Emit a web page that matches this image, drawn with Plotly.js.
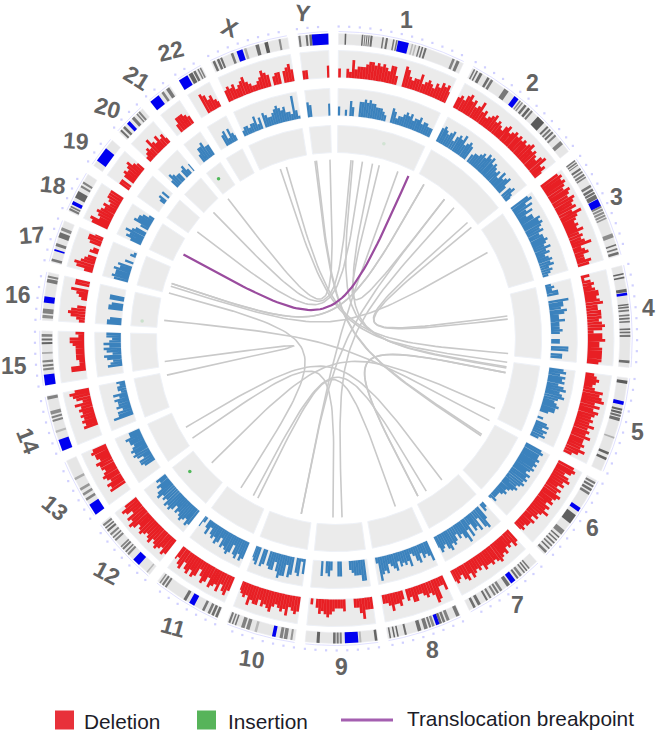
<!DOCTYPE html>
<html><head><meta charset="utf-8">
<script src="https://cdn.plot.ly/plotly-3.0.1.min.js"></script>
<style>html,body{margin:0;padding:0;background:#fff}</style></head>
<body><div id="chart" style="width:657px;height:734px"></div>
<script>
const chromNames=['1','2','3','4','5','6','7','8','9','10','11','12','13','14','15','16','17','18','19','20','21','22','X','Y'];
const chromLengthsMb=[249,243,198,191,181,171,159,146,141,135,135,133,115,107,102,90,81,78,59,63,48,51,155,59];
const binMb=6;
const trackMax=9;
// deletion track, per 6 Mb bin
const del1=[3,0,0,3,2,6,3,4,4,4,5,6,6,5,6,5,6,5,4,6,6,3,0,0,7,6,4,3,4,4,6,3,4,5,4,3,5,4,6,5,6,4];
const del2=[4,5,4,6,7,5,6,4,5,7,4,5,3,4,5,6,4,5,4,3,5,6,4,5,6,5,6,5,6,5,6,7,5,6,5,4,6,7,4,5,3];
const del3=[7,8,7,8,7,6,8,7,6,8,7,6,7,5,8,6,5,4,5,4,6,4,5,4,5,7,3,4,5,3,3,5,4];
const del4=[3,1,3,4,3,4,5,5,4,5,6,4,4,5,5,5,4,5,6,5,2,5,5,6,4,4,5,5,5,5,5,4];
const del5=[3,4,5,4,3,4,7,6,7,8,5,7,5,7,6,5,6,5,7,5,6,5,7,5,5,6,5,7,5,3];
const del6=[6,7,6,4,6,7,5,6,4,6,5,7,6,5,6,4,6,5,7,5,4,5,3,5,4,4,3,4,3];
const del7=[5,6,4,5,4,6,5,6,7,6,5,6,5,5,6,4,5,4,5,6,4,6,5,3,4,5,4];
const del8=[5,3,3,7,8,5,4,5,4,3,3,5,5,3,4,0,3,5,4,4,6,4,3,3];
const del9=[4,4,4,7,5,3,3,0,0,0,4,3,3,3,4,5,6,5,4,5,3,0,2,0];
const del10=[5,6,5,4,7,5,6,5,4,5,7,6,5,6,4,6,6,5,7,4,5,4,3];
const del11=[5,7,6,4,7,5,6,7,4,6,7,5,3,6,7,5,7,6,4,7,6,4,5];
const del12=[6,7,5,6,7,6,5,7,6,5,6,7,6,5,7,8,6,7,4,6,7,5];
const del13=[0,0,0,6,5,6,4,5,6,5,4,5,5,6,4,5,5,6,5];
const del14=[0,0,0,0,5,4,5,4,5,4,5,4,6,3,5,6,7,5];
const del15=[0,0,0,5,5,2,2,3,3,3,3,3,4,5,5,2,3];
const del16=[2,3,5,6,5,3,0,0,2,3,4,6,0,5,5];
const del17=[3,6,7,5,4,3,0,3,2,0,4,5,5,3];
const del18=[6,7,4,5,6,5,4,5,3,4,5,5,5];
const del19=[4,4,0,4,5,4,5,6,4,3];
const del20=[2,3,4,3,6,4,3,5,3,4,2];
const del21=[0,0,3,5,5,5,4,3];
const del22=[0,0,0,7,6,4,5,3,2];
const delX=[4,5,4,5,3,4,5,6,4,3,2,2,3,4,6,5,4,0,3,4,4,0,4,5,6,4];
const delY=[3,3,0,0,0,0,0,0,0,4];
const deletionBins=[del1,del2,del3,del4,del5,del6,del7,del8,del9,del10,del11,del12,del13,del14,del15,del16,del17,del18,del19,del20,del21,del22,delX,delY];
// second (blue) track
const blue1=[3,0,0,2,0,5,3,0,0,5,5,6,5,6,5,5,4,4,4,3,2,0,0,5,4,2,3,3,4,5,4,5,3,4,4,5,3,4,4,3,3,3];
const blue2=[5,6,5,4,5,6,3,5,6,5,7,4,5,6,5,0,3,4,4,5,6,5,7,6,7,5,6,5,4,5,3,6,4,5,6,3,0,4,5,3,2];
const blue3=[7,8,5,7,4,6,3,5,5,7,6,7,6,5,6,4,5,5,6,5,4,6,4,5,3,4,5,4,5,3,4,3,2];
const blue4=[2,3,2,4,4,0,0,7,5,5,4,6,5,3,3,5,3,3,3,4,3,0,0,3,3,0,6,6,0,4,4,0];
const blue5=[5,6,4,6,5,6,4,6,7,5,6,7,5,4,5,6,5,5,3,0,0,2,0,4,5,3,5,4,5,3];
const blue6=[6,7,6,6,7,6,7,6,7,6,5,7,6,7,6,7,6,5,6,5,4,3,4,3,2,2,2,3,1];
const blue7=[2,3,0,5,8,7,3,7,5,6,3,7,4,8,6,4,5,3,5,6,5,7,6,4,5,6,4];
const blue8=[7,5,4,5,3,6,5,3,2,6,4,5,4,5,3,6,5,4,3,6,5,6,8,2];
const blue9=[0,7,7,5,5,5,4,3,0,0,0,5,5,0,0,3,5,4,0,5,0,0,0,0];
const blue10=[5,1,6,5,0,6,7,3,7,7,8,6,3,6,6,5,0,5,6,0,6,5,4];
const blue11=[6,7,5,7,6,3,6,7,6,5,6,3,5,6,4,5,4,2,5,3,0,2,4];
const blue12=[6,7,5,6,7,6,5,6,4,6,7,6,7,5,6,5,7,6,4,5,3,4];
const blue13=[0,0,0,0,4,5,5,3,5,6,5,6,5,4,5,5,6,4,4];
const blue14=[0,0,0,7,5,5,3,5,4,4,5,3,5,2,3,3,2,3];
const blue15=[0,0,0,5,4,3,5,6,3,5,6,4,6,4,3,5,5];
const blue16=[5,5,4,0,0,0,5,5,4,0,5,5,0,0,0];
const blue17=[5,6,5,5,6,4,5,0,3,0,0,2,1,0];
const blue18=[4,6,5,7,5,4,0,3,6,5,5,4,2];
const blue19=[0,0,0,0,2,3,0,3,0,0];
const blue20=[3,5,4,3,3,0,3,4,2,0,3];
const blue21=[0,0,3,5,5,6,4,4];
const blue22=[0,0,0,4,5,2,5,3,2];
const blueX=[2,3,3,2,3,3,5,2,4,0,5,4,3,3,4,5,6,5,4,5,3,3,2,8,3,1];
const blueY=[5,4,0,0,0,0,0,0,0,4];
const blueBins=[blue1,blue2,blue3,blue4,blue5,blue6,blue7,blue8,blue9,blue10,blue11,blue12,blue13,blue14,blue15,blue16,blue17,blue18,blue19,blue20,blue21,blue22,blueX,blueY];
// ideogram bands: [startMb, endMb, grey level]
const bands1=[[12,15,100],[45,48,110],[50,52,120],[54,56,110],[58,60,110],[62,66,110],[85,88,120],[92,96,110],[106,109,120],[112,115,120],[143,146,185],[149,152,185],[157,160,120],[163,166,110],[169,173,110],[226,231,130],[235,241,120]];
const bands2=[[3,6,120],[9,12,110],[16,22,110],[33,38,110],[41,46,120],[72,82,120],[109,112,140],[114,117,140],[121,126,110],[130,135,100],[138,142,120],[155,172,90],[180,184,110],[187,191,120],[194,198,110],[202,206,130],[218,226,130]];
const bands3=[[0,3,120],[5,8,120],[10,12,120],[18,22,110],[25,28,120],[31,35,120],[37,40,130],[55,60,120],[63,68,110],[70,74,110],[76,84,110],[99,103,130],[105,109,140],[111,115,140],[117,121,140],[123,126,150],[155,163,140],[176,179,110],[184,187,120],[191,196,110]];
const bands4=[[14,17,100],[21,24,100],[44,50,100],[72,75,110],[77,80,110],[83,86,120],[92,95,120],[98,101,110],[104,107,120],[118,121,110],[124,127,110],[130,134,120],[178,183,110]];
const bands5=[[5,11,90],[58,62,100],[64,68,100],[70,74,110],[76,82,110],[113,116,175],[143,148,100],[154,159,100]];
const bands6=[[4,8,120],[11,15,110],[18,23,110],[26,31,120],[76,95,95],[112,122,130],[127,130,110],[134,137,110],[141,144,110],[148,151,120],[155,158,110],[163,168,120]];
const bands7=[[18,21,120],[24,27,110],[30,33,120],[38,43,130],[46,50,110],[67,74,110],[85,90,130],[93,97,120],[100,104,130],[110,114,120],[118,122,110],[134,140,110],[145,150,110]];
const bands8=[[1,8,120],[22,28,130],[31,36,120],[38,43,110],[53,58,140],[60,64,120],[67,74,120],[80,87,110],[109,113,110],[125,128,100],[132,135,100],[140,143,110]];
const bands9=[[1,6,100],[32,36,185],[70,74,130],[76,80,120],[82,87,110],[113,119,100]];
const bands10=[[5,9,150],[15,22,130],[24,30,130],[75,80,185],[90,97,130],[100,107,130],[117,120,120],[123,126,120],[129,133,120]];
const bands11=[[1,6,110],[9,14,110],[17,22,120],[29,34,120],[69,75,110],[114,118,120],[121,125,120],[128,131,140]];
const bands12=[[5,8,185],[54,58,130],[61,64,120],[68,72,120],[74,77,130],[90,94,130],[97,100,120],[104,108,130],[113,117,110],[120,123,110],[126,130,130]];
const bands13=[[31,36,130],[42,47,140],[53,58,150],[75,80,170]];
const bands14=[[36,40,185],[57,61,130],[64,68,130],[71,78,140],[100,106,130]];
const bands15=[[28,32,130],[35,39,120],[43,47,130],[59,62,170],[77,81,100],[84,88,110],[91,96,130]];
const bands16=[[4,10,140],[13,22,130],[71,78,120],[80,84,130]];
const bands17=[[2,7,120],[31,37,120],[48,58,110],[62,68,140]];
const bands18=[[2,6,120],[8,11,120],[28,42,100],[50,54,130],[58,62,130]];
const bands19=[];
const bands20=[[3,7,110],[11,16,110],[35,41,120],[47,50,130],[52,56,130]];
const bands21=[[27,32,130],[38,45,120]];
const bands22=[[22,30,100],[32,37,110],[41,44,130],[46,49,130]];
const bandsX=[[3,8,110],[12,17,110],[19,23,110],[41,46,120],[68,73,170],[91,98,110],[109,116,90],[137,141,140]];
const bandsY=[[1,5,120],[15,19,110],[22,27,110]];
const ideogramBands=[bands1,bands2,bands3,bands4,bands5,bands6,bands7,bands8,bands9,bands10,bands11,bands12,bands13,bands14,bands15,bands16,bands17,bands18,bands19,bands20,bands21,bands22,bandsX,bandsY];
const centromereStart=[116,96,85,51,44,60,54,43,38,38,51,27,0,0,0,33,22,14,11,22,0,0,53,27];
const centromereEnd=[137,106,99,56,51,68,64,50,64,45,62,42,22,22,20,45,25,21,40,29,20,19,65,59];
// structural links, ends given as position round the circle in degrees
const linkFrom=[353,353.5,358,5,5.6,8.8,12.2,14.5,21,30.6,43.1,49.6,51.6,61.3,101,117.3,142.2,148.5,151.7,159.9,181,191.6,226,258.2,284.7,287.9,341.2,343.3];
const linkTo=[122.9,122.4,321.3,314.8,99.1,306.6,99.5,38.9,191.6,287.9,178,83.8,82.8,287,151.7,275.8,240.3,208.6,101,206.9,236.2,38.9,113,262.6,213.4,30.6,97.6,94.8];
const translocationFrom=[298];
const translocationTo=[24.8];
const insertionDeg=[322.7,228.7,14.3,275];
const insertionLevel=[5.5,5.8,5.5,5.8];
const insertionOpacity=[0.9,0.9,0.15,0.2];
const chromLabelX=[406,532,616,648,637,592,517,432,341,252,173,107,55,28,14,18,32,53,76,108,137,171,230,302];
const chromLabelY=[20,83,197,308,432,528,605,650,667,659,627,573,508,441,366,295,235,185,141,108,78,51,28,13];
const chromLabelTilt=[0,0,0,0,0,0,0,0,0,8,16,28,40,68,0,0,-4,6,4,16,32,-14,22,6];

// geometry of the round layout
const cx=336,cy=338.5,kx=0.965,gapDeg=2,startDeg=0.5;
const total=chromLengthsMb.reduce((a,b)=>a+b,0);
const degPerMb=(360-gapDeg*chromNames.length)/total;
const chromStart=[];
{let a=startDeg;chromLengthsMb.forEach(l=>{chromStart.push(a);a+=l*degPerMb+gapDeg;});}
const px=(deg,r)=>cx+kx*r*Math.sin(deg*Math.PI/180);
const py=(deg,r)=>cy-r*Math.cos(deg*Math.PI/180);
function addSector(t,a0,a1,r0,r1){
  const n=Math.max(1,Math.ceil((a1-a0)/0.5));
  for(let i=0;i<=n;i++){const a=a0+(a1-a0)*i/n;t.x.push(px(a,r1));t.y.push(py(a,r1));}
  for(let i=n;i>=0;i--){const a=a0+(a1-a0)*i/n;t.x.push(px(a,r0));t.y.push(py(a,r0));}
  t.x.push(px(a0,r1),null);t.y.push(py(a0,r1),null);
}
function filled(name,color,lineColor,lw){return {type:'scatter',mode:'lines',name,x:[],y:[],fill:'toself',fillcolor:color,line:{color:lineColor||color,width:lw||0},hoverinfo:'skip',showlegend:false};}

const ideoR=[294,305],delR=[261,288],blueR=[223,250],insR=[186,213],linkR=179;
const traces=[];
const ringBg=filled('track background','#ebebeb','#eef1f7',1);
const ideoBg=filled('ideogram','#e6e6e6','#ececf2',0.6);
chromNames.forEach((c,i)=>{
  const a0=chromStart[i],a1=a0+chromLengthsMb[i]*degPerMb;
  addSector(ideoBg,a0,a1,ideoR[0],ideoR[1]);
  [delR,blueR,insR].forEach(R=>addSector(ringBg,a0,a1,R[0],R[1]));
});
traces.push(ringBg,ideoBg);

// ideogram bands grouped by grey level
const byGrey={};
ideogramBands.forEach((list,i)=>list.forEach(b=>{
  const g=b[2];
  if(!byGrey[g]){const h=g.toString(16).padStart(2,'0');byGrey[g]=filled('band','#'+h+h+h);}
  addSector(byGrey[g],chromStart[i]+b[0]*degPerMb,chromStart[i]+b[1]*degPerMb,ideoR[0],ideoR[1]);
}));
Object.values(byGrey).forEach(t=>traces.push(t));
const cen=filled('centromere','#0000f0');
centromereStart.forEach((s,i)=>addSector(cen,chromStart[i]+s*degPerMb,chromStart[i]+centromereEnd[i]*degPerMb,ideoR[0],ideoR[1]));
traces.push(cen);

function histTrack(name,color,bins,R){
  const t=filled(name,color);
  bins.forEach((vals,i)=>vals.forEach((v,j)=>{
    if(!v) return;
    const a0=chromStart[i]+j*binMb*degPerMb;
    const a1=Math.min(a0+binMb*degPerMb*0.97,chromStart[i]+chromLengthsMb[i]*degPerMb);
    const r1=R[0]+(R[1]-R[0])*v/trackMax;
    t.x.push(px(a0,R[0]),px(a0,r1),px(a1,r1),px(a1,R[0]),px(a0,R[0]),null);
    t.y.push(py(a0,R[0]),py(a0,r1),py(a1,r1),py(a1,R[0]),py(a0,R[0]),null);
  }));
  return t;
}
traces.push(histTrack('Deletion','#e81f24',deletionBins,delR));
traces.push(histTrack('Blue track','#3b82bd',blueBins,blueR));

// tick scale outside the ideogram
const scaleLine={type:'scatter',mode:'lines',x:[],y:[],line:{color:'#d8d8ff',width:0.8},hoverinfo:'skip',showlegend:false,name:'scale'};
const scaleDots={type:'scatter',mode:'markers',x:[],y:[],marker:{color:'#d0d0ff',size:2.2,symbol:'square'},hoverinfo:'skip',showlegend:false,name:'ticks'};
chromNames.forEach((c,i)=>{
  const L=chromLengthsMb[i];
  for(let m=0;m<=L;m+=2){const a=chromStart[i]+m*degPerMb;scaleLine.x.push(px(a,307));scaleLine.y.push(py(a,307));}
  scaleLine.x.push(null);scaleLine.y.push(null);
  for(let m=0;m<=L;m+=20){const a=chromStart[i]+m*degPerMb;scaleDots.x.push(px(a,312));scaleDots.y.push(py(a,312));}
});
traces.push(scaleLine,scaleDots);

// links
function linkTrace(from,to,color,width,name){
  const t={type:'scatter',mode:'lines',name,x:[],y:[],line:{color,width},hoverinfo:'skip',showlegend:false};
  from.forEach((a,i)=>{
    const b=to[i];
    for(let k=0;k<=60;k++){
      const u=k/60,p=Math.pow(1-u,3),q=Math.pow(u,3);
      t.x.push(cx+p*(px(a,linkR)-cx)+q*(px(b,linkR)-cx));
      t.y.push(cy+p*(py(a,linkR)-cy)+q*(py(b,linkR)-cy));
    }
    t.x.push(null);t.y.push(null);
  });
  return t;
}
traces.push(linkTrace(linkFrom,linkTo,'#c9c9c9',1.6,'Structural link'));
traces.push(linkTrace(translocationFrom,translocationTo,'#9a4c9e',2.2,'Translocation breakpoint'));

// insertions
traces.push({type:'scatter',mode:'markers',name:'Insertion',
  x:insertionDeg.map((a,i)=>px(a,insR[0]+(insR[1]-insR[0])*insertionLevel[i]/10)),
  y:insertionDeg.map((a,i)=>py(a,insR[0]+(insR[1]-insR[0])*insertionLevel[i]/10)),
  marker:{color:'#3fb24a',size:3.5,opacity:insertionOpacity},hoverinfo:'skip',showlegend:false});

// legend keys
traces.push({type:'scatter',mode:'markers',name:'Deletion key',x:[64.5],y:[720],marker:{symbol:'square',size:19,color:'#e8313a'},hoverinfo:'skip',showlegend:false});
traces.push({type:'scatter',mode:'markers',name:'Insertion key',x:[206.5],y:[720],marker:{symbol:'square',size:19,color:'#57b45a'},hoverinfo:'skip',showlegend:false});
traces.push({type:'scatter',mode:'lines',name:'Translocation key',x:[341,393],y:[720,720],line:{color:'#a45fb0',width:3},hoverinfo:'skip',showlegend:false});

const annotations=chromNames.map((c,i)=>({x:chromLabelX[i],y:chromLabelY[i],text:'<b>'+c+'</b>',textangle:chromLabelTilt[i],showarrow:false,xref:'x',yref:'y',font:{family:'Liberation Sans, Arial, sans-serif',size:23,color:'#636363'}}));
[['Deletion',82,721],['Insertion',226,721],['Translocation breakpoint',405,718]].forEach(l=>annotations.push({x:l[1],y:l[2],text:l[0],xanchor:'left',showarrow:false,xref:'x',yref:'y',font:{family:'Liberation Sans, Arial, sans-serif',size:20.8,color:'#1c1c28'}}));

Plotly.newPlot('chart',traces,{
  width:657,height:734,margin:{l:0,r:0,t:0,b:0},paper_bgcolor:'#fff',plot_bgcolor:'#fff',showlegend:false,
  xaxis:{range:[0,657],visible:false,fixedrange:true},
  yaxis:{range:[734,0],visible:false,fixedrange:true},
  annotations
},{displayModeBar:false,staticPlot:true});
</script></body></html>
